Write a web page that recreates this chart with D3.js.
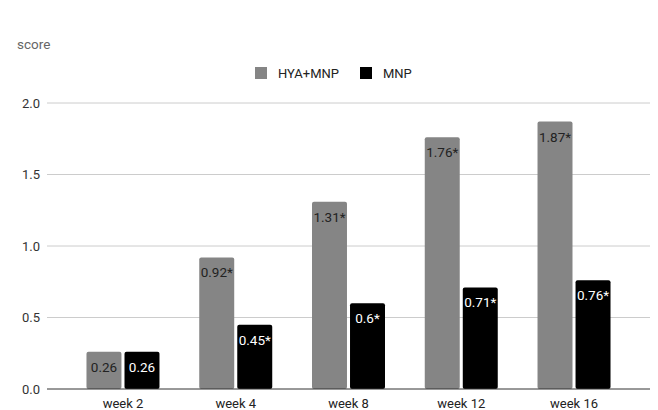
<!DOCTYPE html>
<html><head><meta charset="utf-8">
<script src="https://cdn.jsdelivr.net/npm/d3@7"></script>
<style>body{margin:0;background:#fff}svg{display:block;font-family:Roboto,"Liberation Sans",Arial,sans-serif}</style>
</head><body><svg id="c" width="658" height="410"></svg>
<script>
const categories = ["week 2","week 4","week 8","week 12","week 16"];
const seriesNames = ["HYA+MNP","MNP"];
const hyaValues = [0.26,0.92,1.31,1.76,1.87];
const mnpValues = [0.26,0.45,0.6,0.71,0.76];
const hyaLabels = ["0.26","0.92*","1.31*","1.76*","1.87*"];
const mnpLabels = ["0.26","0.45*","0.6*","0.71*","0.76*"];
const yTicks = [0,0.5,1,1.5,2];
const colors = ["#858585","#000000"];

const svg = d3.select("#c");
const x = d3.scaleBand().domain(categories).range([66.6,630.4]).paddingInner(0).paddingOuter(0);
const x1 = d3.scaleBand().domain(seriesNames).range([x.bandwidth()/2-36.5, x.bandwidth()/2+36.5]).paddingInner(0.08);
const y = d3.scaleLinear().domain([0,2]).range([389,103]);

// gridlines
svg.append("g").selectAll("line").data(yTicks.slice(1)).join("line")
  .attr("x1",47).attr("x2",650).attr("y1",d=>y(d)).attr("y2",d=>y(d))
  .attr("stroke","#cccccc").attr("stroke-width",1);
// y tick labels
svg.append("g").selectAll("text").data(yTicks).join("text")
  .attr("x",40).attr("y",d=>y(d)).attr("dy","0.35em").attr("text-anchor","end")
  .attr("font-size",13).attr("fill","#333").text(d=>d3.format(".1f")(d));

const data = categories.map((c,i)=>({c, vals:[
  {s:seriesNames[0], v:hyaValues[i], l:hyaLabels[i], col:colors[0], tc:"#222"},
  {s:seriesNames[1], v:mnpValues[i], l:mnpLabels[i], col:colors[1], tc:"#fff"}]}));

const g = svg.append("g").selectAll("g").data(data).join("g").attr("transform",d=>`translate(${x(d.c)},0)`);
g.selectAll("rect").data(d=>d.vals).join("rect")
  .attr("x",d=>x1(d.s)).attr("width",x1.bandwidth())
  .attr("y",d=>y(d.v)).attr("height",d=>y(0)-y(d.v)).attr("rx",2)
  .attr("fill",d=>d.col);
g.selectAll("text").data(d=>d.vals).join("text")
  .attr("x",d=>x1(d.s)+x1.bandwidth()/2).attr("y",d=>y(d.v)+20)
  .attr("text-anchor","middle").attr("font-size",13.5).attr("fill",d=>d.tc).text(d=>d.l);

// x axis line
svg.append("line").attr("x1",47).attr("x2",650).attr("y1",y(0)).attr("y2",y(0)).attr("stroke","#333").attr("stroke-width",1);
svg.append("g").selectAll("text").data(categories).join("text")
  .attr("x",d=>x(d)+x.bandwidth()/2).attr("y",408).attr("text-anchor","middle")
  .attr("font-size",13).attr("fill","#222").text(d=>d);

// axis title
svg.append("text").attr("x",17).attr("y",49).attr("font-size",13.5).attr("fill","#666").text("score");

// legend
const leg = svg.append("g");
const legX = [255,360];
seriesNames.forEach((s,i)=>{
  leg.append("rect").attr("x",legX[i]).attr("y",67).attr("width",12).attr("height",12).attr("fill",colors[i]);
  leg.append("text").attr("x",legX[i]+23).attr("y",78).attr("font-size",13).attr("fill","#222").text(s);
});
</script></body></html>
